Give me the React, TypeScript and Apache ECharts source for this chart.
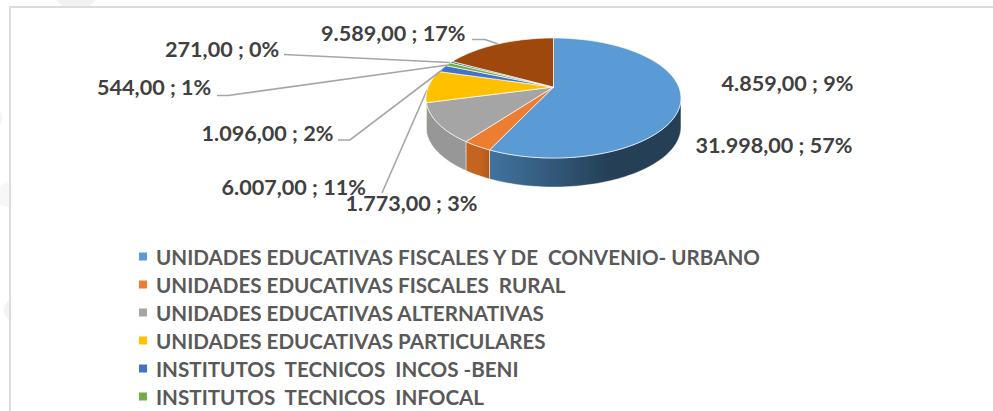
import React, { useEffect, useRef } from "react";
import * as echarts from "echarts";

const categories = [
  "UNIDADES EDUCATIVAS FISCALES Y DE  CONVENIO- URBANO",
  "UNIDADES EDUCATIVAS FISCALES  RURAL",
  "UNIDADES EDUCATIVAS ALTERNATIVAS",
  "UNIDADES EDUCATIVAS PARTICULARES",
  "INSTITUTOS  TECNICOS  INCOS -BENI",
  "INSTITUTOS  TECNICOS  INFOCAL",
  "OTROS 1",
  "OTROS 2",
];
const legendCount = 6;
const values = [31998, 1773, 6007, 4859, 1096, 544, 271, 9589];
const valueLabels = ["31.998,00", "1.773,00", "6.007,00", "4.859,00", "1.096,00", "544,00", "271,00", "9.589,00"];
const colors = ["#5B9BD5", "#ED7D31", "#A5A5A5", "#FFC000", "#4472C4", "#70AD47", "#255E91", "#9E480E"];
const wallColors = [
  ["#41749f", "#243f56"],
  ["#c4651f", "#b4591a"],
  ["#7c7c7c", "#979797"],
  ["#c99a00", "#c99a00"],
  ["#335a9c", "#335a9c"],
  ["#55843a", "#55843a"],
  ["#1c4669", "#1c4669"],
  ["#76360a", "#76360a"],
];
const labelPos = [
  [695.5, 145], [345.5, 203], [221.5, 187], [721.5, 83], [201.5, 133], [97, 87], [165, 49], [321, 33],
];
const leaders: (number[][] | null)[] = [
  null, null,
  [[382, 193], [427, 90]],
  null,
  [[338, 140], [350, 140], [442, 70]],
  [[217, 95.5], [228, 95.5], [448, 65]],
  [[284, 54.5], [450, 62.5]],
  [[472, 39.5], [485, 39.5], [498, 44]],
];

const total = values.reduce((a, b) => a + b, 0);
const CX = 553.5, CY = 87, KX = 125.3, KY = 58, PERSP = -0.1833, DEPTH = 29;
const FRONT_A = 100.5, FRONT_B = 259.5;

function project(deg: number): number[] {
  const r = (deg * Math.PI) / 180;
  const x = Math.sin(r), y = -Math.cos(r);
  const w = 1 + PERSP * y;
  return [CX + (KX * x) / w, CY + (KY * y) / w];
}
function arcPoints(a: number, b: number): number[][] {
  const n = Math.max(2, Math.ceil((b - a) / 1.5));
  const pts: number[][] = [];
  for (let i = 0; i <= n; i++) pts.push(project(a + ((b - a) * i) / n));
  return pts;
}

const starts: number[] = [];
values.reduce((acc, v, i) => {
  starts[i] = acc;
  return acc + v;
}, 0);

function makeRender(i: number) {
  return () => {
    const a = (starts[i] / total) * 360;
    const b = ((starts[i] + values[i]) / total) * 360;
    const children: any[] = [];
    const wa = Math.max(a, FRONT_A), wb = Math.min(b, FRONT_B);
    if (wb > wa) {
      const rim = arcPoints(wa, wb);
      const lower = rim.map(([x, y]) => [x, y + DEPTH]).reverse();
      children.push({
        type: "polygon",
        shape: { points: rim.concat(lower) },
        style: {
          fill: new echarts.graphic.LinearGradient(
            Math.max(rim[rim.length - 1][0], 480), 0, i === 0 ? 610 : rim[0][0], 0,
            [{ offset: 0, color: wallColors[i][0] }, { offset: 1, color: wallColors[i][1] }],
            true
          ),
          stroke: "rgba(255,255,255,0.55)",
          lineWidth: 0.8,
        },
      });
    }
    children.push({
      type: "polygon",
      shape: { points: [[CX, CY], ...arcPoints(a, b)] },
      style: { fill: colors[i], stroke: "rgba(255,255,255,0.75)", lineWidth: 0.9 },
    });
    if (leaders[i]) {
      children.push({
        type: "polyline",
        shape: { points: leaders[i] },
        style: { fill: "none", stroke: "#a6a6a6", lineWidth: 1.6 },
      });
    }
    children.push({
      type: "text",
      style: {
        x: labelPos[i][0],
        y: labelPos[i][1],
        text: `${valueLabels[i]} ; ${Math.round((values[i] / total) * 100)}%`,
        fill: "#404040",
        font: "bold 21.6px Lato",
        textAlign: "left",
        textVerticalAlign: "middle",
      },
    });
    return { type: "group", children };
  };
}

export default function App() {
  const ref = useRef<HTMLDivElement>(null);
  useEffect(() => {
    document.body.style.margin = "0";
    const chart = echarts.init(ref.current!, undefined, { renderer: "svg" });
    chart.setOption({
      animation: false,
      backgroundColor: "#ffffff",
      legend: {
        orient: "vertical",
        left: 139,
        top: 246,
        height: 165,
        data: categories.slice(0, legendCount),
        icon: "rect",
        itemWidth: 8,
        itemHeight: 8,
        itemGap: 7,
        selectedMode: false,
        padding: 0,
        textStyle: {
          color: "#595959",
          fontFamily: "Lato",
          fontWeight: "bold",
          fontSize: 20.6,
          lineHeight: 20,
          height: 20,
          padding: [0, 0, 0, 4],
        },
      },
      graphic: [
        { type: "circle", shape: { cx: 76, cy: -14, r: 24 }, style: { fill: "#f2f2f2" }, silent: true },
        { type: "circle", shape: { cx: -12, cy: 118, r: 14 }, style: { fill: "#f4f4f4" }, silent: true },
        { type: "circle", shape: { cx: 16, cy: 310, r: 12 }, style: { fill: "#f2f2f2" }, silent: true },
        { type: "circle", shape: { cx: 8, cy: 195, r: 12 }, style: { fill: "#f7f7f7" }, silent: true },
        {
          type: "rect",
          shape: { x: 10, y: 7, width: 1100, height: 500 },
          style: { fill: "#ffffff", stroke: "#dcdcdc", lineWidth: 2 },
          silent: true,
        },
      ],
      series: categories.map((name, i) => ({
        type: "custom",
        name,
        coordinateSystem: "none",
        itemStyle: { color: colors[i] },
        silent: true,
        data: [[values[i]]],
        renderItem: makeRender(i),
      })),
    });
    return () => chart.dispose();
  }, []);
  return <div ref={ref} style={{ width: 993, height: 411 }} />;
}
